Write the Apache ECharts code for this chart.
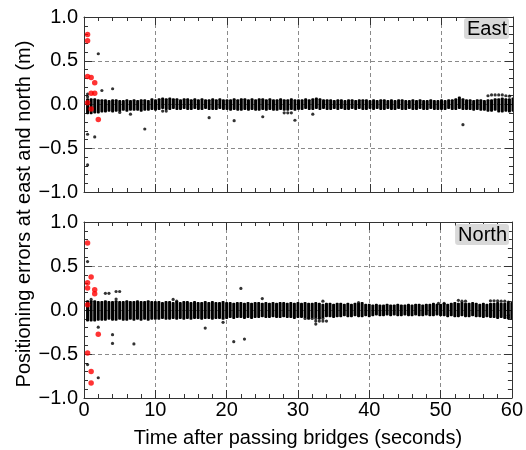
<!DOCTYPE html>
<html>
<head>
<meta charset="utf-8">
<script src="https://cdn.jsdelivr.net/npm/echarts@6/dist/echarts.min.js"></script>
<style>html,body{margin:0;padding:0;background:#fff;}#c{width:526px;height:450px;}</style>
</head>
<body>
<div id="c"></div>
<script>
// Column times (s), 2 Hz epochs
var times = [0.5,1,1.5,2,2.5,3,3.5,4,4.5,5,5.5,6,6.5,7,7.5,8,8.5,9,9.5,10,
10.5,11,11.5,12,12.5,13,13.5,14,14.5,15,15.5,16,16.5,17,17.5,18,18.5,19,19.5,20,
20.5,21,21.5,22,22.5,23,23.5,24,24.5,25,25.5,26,26.5,27,27.5,28,28.5,29,29.5,30,
30.5,31,31.5,32,32.5,33,33.5,34,34.5,35,35.5,36,36.5,37,37.5,38,38.5,39,39.5,40,
40.5,41,41.5,42,42.5,43,43.5,44,44.5,45,45.5,46,46.5,47,47.5,48,48.5,49,49.5,50,
50.5,51,51.5,52,52.5,53,53.5,54,54.5,55,55.5,56,56.5,57,57.5,58,58.5,59,59.5,60];

// East: spread of the dense cloud at each epoch (m)
var eastHi = [0.06,0.06,0.06,0.05,
0.05,0.05,0.04,0.05,0.05,0.04,
0.04,0.05,0.04,0.05,0.04,0.05,0.05,0.04,0.06,0.05,
0.06,0.07,0.06,0.07,0.06,0.06,0.05,0.06,0.06,0.05,0.06,0.05,0.06,0.05,0.05,0.06,0.05,0.06,0.05,0.05,
0.05,0.06,0.05,0.06,0.06,0.05,0.06,0.05,0.06,0.06,0.05,0.06,0.05,0.05,0.06,0.05,0.05,0.06,0.05,0.05,
0.05,0.06,0.05,0.06,0.07,0.06,0.05,0.05,0.05,0.04,0.05,0.05,0.04,0.05,0.05,0.04,0.05,0.05,0.05,0.04,
0.05,0.04,0.05,0.05,0.04,0.05,0.04,0.05,0.05,0.04,0.04,0.05,0.04,0.05,0.04,0.04,0.05,0.04,0.04,0.05,
0.04,0.05,0.05,0.06,0.08,0.06,0.05,0.05,0.04,0.05,
0.05,0.04,0.05,0.05,0.06,0.06,0.07,0.06,0.06,0.07];
var eastLo = [-0.10,-0.10,-0.09,-0.09,
-0.08,-0.08,-0.07,-0.08,-0.07,-0.07,
-0.06,-0.07,-0.06,-0.06,-0.06,-0.07,-0.06,-0.06,-0.05,-0.06,
-0.05,-0.04,-0.05,-0.05,-0.04,-0.05,-0.05,-0.04,-0.05,-0.05,-0.04,-0.05,-0.05,-0.04,-0.05,-0.05,-0.05,-0.04,-0.05,-0.05,
-0.06,-0.05,-0.06,-0.06,-0.05,-0.06,-0.05,-0.06,-0.06,-0.05,-0.06,-0.05,-0.06,-0.06,-0.05,-0.06,-0.06,-0.05,-0.06,-0.05,
-0.05,-0.04,-0.05,-0.05,-0.04,-0.05,-0.04,-0.05,-0.05,-0.04,-0.05,-0.04,-0.05,-0.05,-0.04,-0.05,-0.04,-0.05,-0.05,-0.04,
-0.05,-0.04,-0.05,-0.05,-0.04,-0.05,-0.05,-0.04,-0.05,-0.05,-0.04,-0.05,-0.05,-0.04,-0.05,-0.05,-0.04,-0.05,-0.05,-0.05,
-0.05,-0.04,-0.05,-0.05,-0.04,-0.05,-0.05,-0.05,-0.06,-0.05,
-0.06,-0.06,-0.07,-0.07,-0.06,-0.08,-0.08,-0.07,-0.08,-0.07];

// North: spread of the dense cloud at each epoch (m)
var northHi = [0.10,0.10,0.10,0.09,
0.09,0.10,0.09,0.09,0.10,0.09,0.09,0.10,0.09,0.09,0.10,0.09,0.09,0.10,0.09,0.09,
0.09,0.08,0.09,0.09,0.08,0.09,0.08,0.09,0.09,0.08,0.09,0.08,0.08,0.09,0.08,0.09,0.08,0.08,0.09,0.08,
0.08,0.07,0.08,0.08,0.07,0.08,0.07,0.08,0.08,0.07,0.08,0.07,0.08,0.07,0.08,0.08,0.07,0.08,0.07,0.08,
0.07,0.08,0.07,0.07,0.08,0.07,0.06,0.07,0.07,0.06,0.07,0.07,0.06,0.07,0.06,0.07,0.07,0.08,0.06,0.06,
0.05,0.06,0.05,0.05,0.06,0.05,0.05,0.06,0.05,0.05,0.06,0.05,0.06,0.06,0.05,0.06,0.06,0.07,0.06,0.06,
0.07,0.06,0.07,0.08,0.07,0.08,0.07,0.07,0.08,0.07,
0.06,0.07,0.06,0.07,0.07,0.08,0.07,0.07,0.08,0.08];
var northLo = [-0.12,-0.12,-0.12,-0.11,
-0.11,-0.11,-0.10,-0.11,-0.11,-0.10,-0.11,-0.11,-0.10,-0.11,-0.10,-0.11,-0.10,-0.11,-0.10,-0.10,
-0.10,-0.09,-0.10,-0.10,-0.09,-0.10,-0.09,-0.10,-0.09,-0.10,-0.09,-0.09,-0.10,-0.09,-0.09,-0.10,-0.09,-0.09,-0.10,-0.09,
-0.08,-0.09,-0.08,-0.08,-0.09,-0.08,-0.09,-0.08,-0.08,-0.07,-0.08,-0.08,-0.07,-0.08,-0.08,-0.07,-0.08,-0.08,-0.09,-0.08,
-0.08,-0.08,-0.09,-0.08,-0.08,-0.09,-0.08,-0.07,-0.07,-0.08,-0.07,-0.07,-0.06,-0.07,-0.07,-0.06,-0.07,-0.07,-0.06,-0.07,
-0.06,-0.05,-0.06,-0.06,-0.05,-0.06,-0.05,-0.06,-0.06,-0.05,-0.06,-0.06,-0.05,-0.06,-0.06,-0.05,-0.06,-0.06,-0.05,-0.06,
-0.06,-0.07,-0.06,-0.07,-0.07,-0.06,-0.07,-0.07,-0.06,-0.07,
-0.07,-0.08,-0.07,-0.08,-0.08,-0.09,-0.08,-0.09,-0.09,-0.10];

// Isolated black points [time, error]
var eastOutliers = [[2.0,0.58],[2.5,0.16],[4.0,0.18],[0.5,0.12],[0.5,0.09],[0.5,-0.34],[1.5,-0.37],[0.5,-0.69],
[8.5,-0.28],[17.5,-0.15],[21,-0.185],[5,-0.09],[6.5,-0.11],[11,-0.075],[11.5,-0.075],[25,-0.14],
[28,-0.095],[28.5,-0.095],[29,-0.095],[29.5,-0.18],[32,-0.11],[53,-0.23],
[56.5,0.10],[57,0.11],[57.5,0.11],[58,0.11],[58.5,0.11],[59,0.10],[59.5,0.095]];
var northOutliers = [[0.5,0.55],[1.0,0.12],[0.5,-0.62],[2,-0.195],[2,-0.77],[3,0.19],[3.5,0.19],[4.5,0.21],[5,0.21],
[4.5,0.125],[4,-0.28],[4,-0.38],[7,-0.385],[12.5,0.12],[13,0.10],[17,-0.205],[19.5,-0.14],[21,-0.36],
[22.5,-0.33],[22,0.245],[25,0.13],[31,-0.096],[31.5,-0.096],[32,-0.096],[32.5,-0.096],[33,-0.096],[33.5,-0.096],
[32.5,-0.126],[33,-0.126],[33.5,-0.126],[34,-0.126],[32.5,-0.16],[33.5,0.10],[38.5,0.085],
[49.7,0.075],[50.5,0.075],[52.5,0.11],[53,0.10],[53.5,0.10],
[57,0.105],[57.5,0.105],[58,0.105],[58.5,0.10],[59,0.10],[59.5,0.09],[59.5,-0.06],[59.5,-0.09]];

// Red (early) points [time, error]
var eastRed = [[0.5,0.80],[0.5,0.73],[0.5,0.32],[1.0,0.31],[1.5,0.25],[1.0,0.13],[1.5,0.13],[0.5,0.02],[1.0,-0.05],[2.0,-0.17]];
var northRed = [[0.5,0.76],[1.0,0.375],[0.5,0.31],[0.5,0.25],[1.5,0.23],[1.5,0.185],[0.5,0.06],[2.0,-0.275],[0.5,-0.49],[1.0,-0.70],[1.0,-0.83]];

var xTickLabels = ['0','10','20','30','40','50','60'];
var yTickLabels = ['\u22121.0','\u22120.5','0.0','0.5','1.0'];
var panelNames = ['East','North'];

var FONT = 'Liberation Sans, Arial, Helvetica, sans-serif';
var AX = '#333';

function cols(hi, lo) {
  var d = [];
  for (var i = 0; i < times.length; i++) d.push([times[i], lo[i], hi[i]]);
  return d;
}

function xAxisDef(g, pos, labels, split) {
  return {
    gridIndex: g, type: 'value', min: 0, max: 60, interval: 10, position: pos,
    axisLine: {show: true, onZero: false, lineStyle: {color: AX, width: 1}},
    axisTick: {show: true, inside: true, length: 8, lineStyle: {color: AX}},
    minorTick: {show: true, splitNumber: 5, length: 4, lineStyle: {color: AX}},
    axisLabel: {show: labels, color: '#000', fontSize: 20, fontFamily: FONT, margin: 2,
      formatter: function (v) { return xTickLabels[Math.round(v / 10)]; }},
    splitLine: {show: split, lineStyle: {color: '#8a8a8a', type: [4, 3], width: 1}}
  };
}
function yAxisDef(g, pos, labels, split) {
  return {
    gridIndex: g, type: 'value', min: -1, max: 1, interval: 0.5, position: pos,
    axisLine: {show: true, onZero: false, lineStyle: {color: AX, width: 1}},
    axisTick: {show: true, inside: true, length: 8, lineStyle: {color: AX}},
    minorTick: {show: true, splitNumber: 5, length: 4, lineStyle: {color: AX}},
    axisLabel: {show: labels, color: '#000', fontSize: 20, fontFamily: FONT, margin: 6,
      formatter: function (v) { return yTickLabels[Math.round((v + 1) / 0.5)]; }},
    splitLine: {show: split, lineStyle: {color: '#8a8a8a', type: [4, 3], width: 1}}
  };
}

function renderCol(params, api) {
  var x = api.value(0), lo = api.value(1), hi = api.value(2);
  var t = api.coord([x, hi]);
  var b = api.coord([x, lo]);
  return {
    type: 'rect',
    shape: {x: t[0] - 1.5, y: t[1] - 1, width: 3, height: b[1] - t[1] + 2, r: 1},
    style: {fill: '#000'}
  };
}

var chart = echarts.init(document.getElementById('c'), null, {renderer: 'canvas'});
chart.setOption({
  animation: false,
  backgroundColor: '#fff',
  grid: [
    {left: 84, top: 17, width: 429, height: 175},
    {left: 84, top: 222, width: 429, height: 176}
  ],
  xAxis: [
    xAxisDef(0, 'bottom', false, true), xAxisDef(0, 'top', false, false),
    xAxisDef(1, 'bottom', true, true), xAxisDef(1, 'top', false, false)
  ],
  yAxis: [
    yAxisDef(0, 'left', true, true), yAxisDef(0, 'right', false, false),
    yAxisDef(1, 'left', true, true), yAxisDef(1, 'right', false, false)
  ],
  series: [
    {type: 'custom', xAxisIndex: 0, yAxisIndex: 0, data: cols(eastHi, eastLo), renderItem: renderCol, encode: {x: 0, y: [1, 2]}, clip: true, z: 3},
    {type: 'scatter', xAxisIndex: 0, yAxisIndex: 0, data: eastOutliers, symbolSize: 3.2, itemStyle: {color: '#000'}, z: 4},
    {type: 'scatter', xAxisIndex: 0, yAxisIndex: 0, data: eastRed, symbolSize: 5.5, itemStyle: {color: '#ff0000'}, z: 5},
    {type: 'custom', xAxisIndex: 2, yAxisIndex: 2, data: cols(northHi, northLo), renderItem: renderCol, encode: {x: 0, y: [1, 2]}, clip: true, z: 3},
    {type: 'scatter', xAxisIndex: 2, yAxisIndex: 2, data: northOutliers, symbolSize: 3.2, itemStyle: {color: '#000'}, z: 4},
    {type: 'scatter', xAxisIndex: 2, yAxisIndex: 2, data: northRed, symbolSize: 5.5, itemStyle: {color: '#ff0000'}, z: 5}
  ],
  graphic: [
    {type: 'text', right: 17, top: 18, z: 10,
      style: {text: panelNames[0], fontSize: 20, fontFamily: FONT, fill: '#000',
        backgroundColor: '#d9d9d9', borderRadius: 3, padding: [1, 2, 0, 3]}},
    {type: 'text', right: 17, top: 224, z: 10,
      style: {text: panelNames[1], fontSize: 20, fontFamily: FONT, fill: '#000',
        backgroundColor: '#d9d9d9', borderRadius: 3, padding: [1, 2, 0, 3]}},
    {type: 'text', x: 298, y: 438, z: 10,
      style: {text: 'Time after passing bridges (seconds)', fontSize: 20, fontFamily: FONT, fill: '#000',
        align: 'center', verticalAlign: 'middle'}},
    {type: 'text', x: 24, y: 214, rotation: Math.PI / 2, z: 10,
      style: {text: 'Positioning errors at east and north (m)', fontSize: 20, fontFamily: FONT, fill: '#000',
        align: 'center', verticalAlign: 'middle'}}
  ]
});
</script>
</body>
</html>
